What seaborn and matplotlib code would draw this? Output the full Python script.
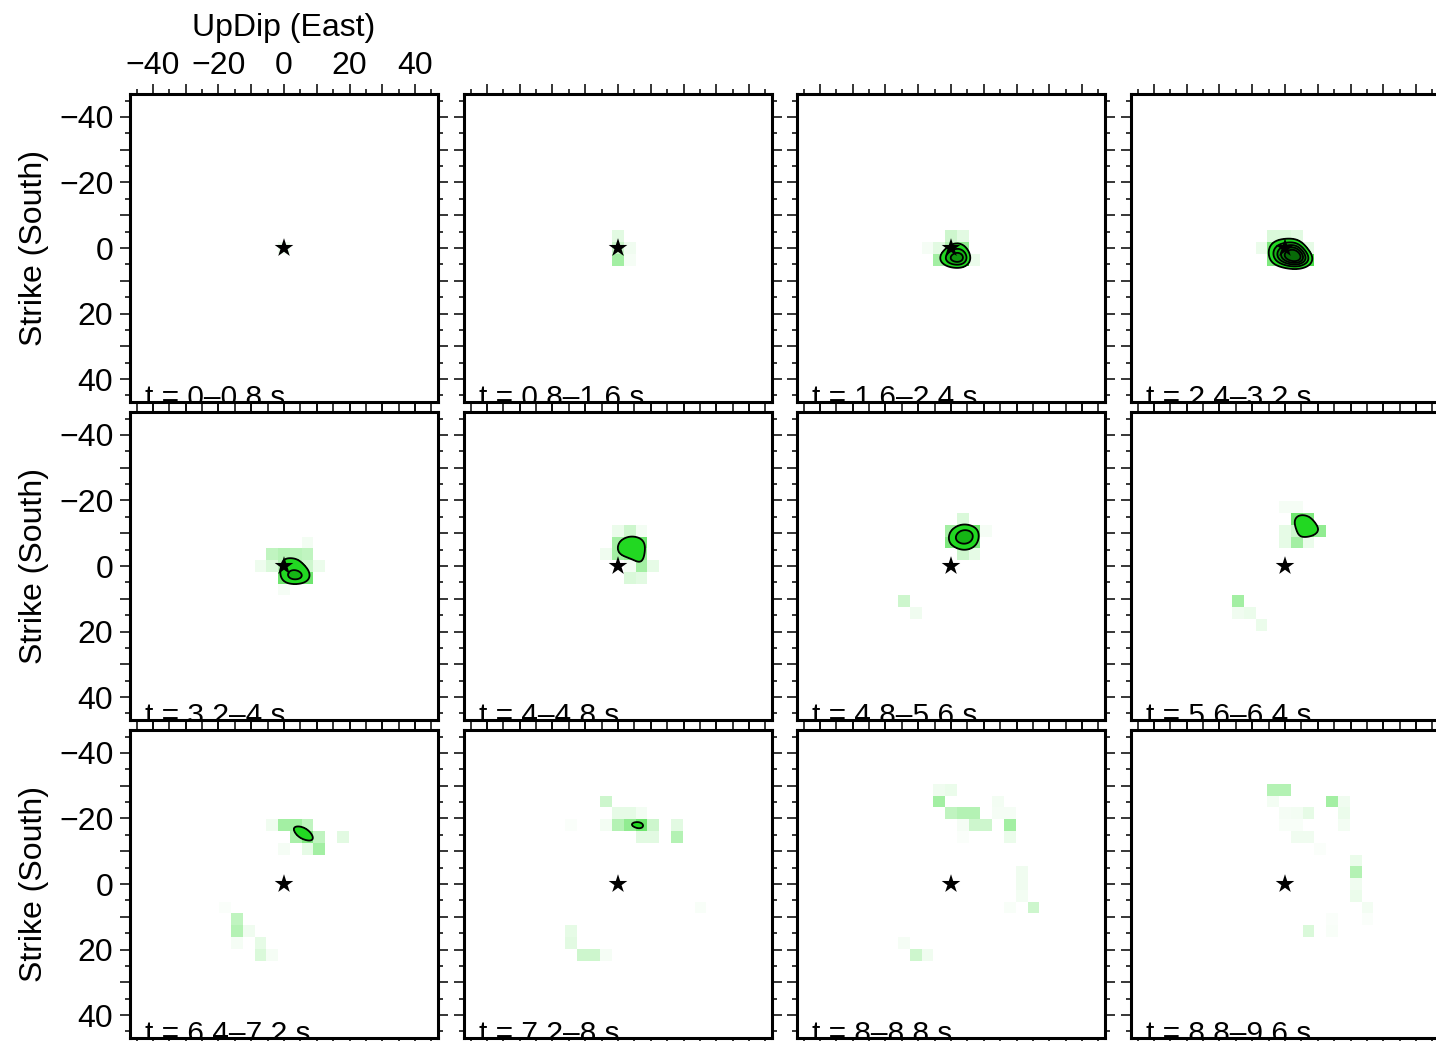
import numpy as np
import pandas as pd
import matplotlib
matplotlib.use("Agg")
import matplotlib.pyplot as plt
import seaborn as sns
from matplotlib.colors import LinearSegmentedColormap

# ---------------- data ----------------
CELL = 3.6          # km, size of a subfault cell
NHALF = 13          # cells each side of hypocentre
LIM = 47            # axis half-range (km)

time_windows = ["0–0.8", "0.8–1.6", "1.6–2.4", "2.4–3.2",
                "3.2–4", "4–4.8", "4.8–5.6", "5.6–6.4",
                "6.4–7.2", "7.2–8", "8–8.8", "8.8–9.6"]

major_ticks = [-40, -30, -20, -10, 0, 10, 20, 30, 40]
minor_ticks = [-45, -35, -25, -15, -5, 5, 15, 25, 35, 45]
tick_labels = ["−40", "", "−20", "", "0", "", "20", "", "40"]

hypo_x = [0.0]
hypo_y = [0.0]

# (east cell index, south cell index, relative slip)
p01 = [(0, 0, 0.07)]
p02 = [(0, -1, 0.12), (0, 0, 0.22), (0, 1, 0.35), (1, 0, 0.06), (1, 1, 0.04)]
p03 = [(0, -1, 0.2), (1, -1, 0.12), (-2, 0, 0.04), (-1, 0, 0.12), (0, 0, 0.3),
       (1, 0, 0.4), (-1, 1, 0.35), (0, 1, 0.75), (1, 1, 0.85), (2, 1, 0.08)]
p04 = [(-1, -1, 0.15), (0, -1, 0.15), (1, -1, 0.12), (-2, 0, 0.08), (-1, 0, 0.45),
       (0, 0, 0.6), (1, 0, 0.7), (2, 0, 0.1), (-1, 1, 0.45), (0, 1, 0.75),
       (1, 1, 1.0), (2, 1, 0.6)]
p05 = [(2, -2, 0.05), (-1, -1, 0.25), (0, -1, 0.3), (1, -1, 0.28), (2, -1, 0.25),
       (-2, 0, 0.07), (-1, 0, 0.15), (0, 0, 0.3), (1, 0, 0.3), (2, 0, 0.2),
       (3, 0, 0.08), (0, 1, 0.5), (1, 1, 0.65), (2, 1, 0.5), (0, 2, 0.04)]
p06 = [(0, -3, 0.08), (1, -3, 0.2), (2, -3, 0.05), (0, -2, 0.35), (1, -2, 0.4),
       (2, -2, 0.5), (-1, -1, 0.06), (0, -1, 0.35), (1, -1, 0.4), (2, -1, 0.4),
       (1, 0, 0.05), (2, 0, 0.35), (3, 0, 0.1), (1, 1, 0.15), (2, 1, 0.12)]
p07 = [(1, -4, 0.15), (0, -3, 0.35), (1, -3, 0.5), (2, -3, 0.5), (3, -3, 0.04),
       (0, -2, 0.45), (1, -2, 0.5), (2, -2, 0.45), (1, -1, 0.2), (2, -1, 0.1),
       (-4, 3, 0.2), (-3, 4, 0.06)]
p08 = [(0, -5, 0.04), (1, -5, 0.04), (1, -4, 0.5), (2, -4, 0.45), (0, -3, 0.1),
       (1, -3, 0.2), (2, -3, 0.55), (3, -3, 0.4), (0, -2, 0.1), (1, -2, 0.35),
       (2, -2, 0.08), (-4, 3, 0.35), (-4, 4, 0.06), (-3, 4, 0.08), (-2, 5, 0.08)]
p09 = [(-1, -5, 0.06), (0, -5, 0.35), (1, -5, 0.36), (2, -5, 0.25), (1, -4, 0.33),
       (2, -4, 0.45), (3, -4, 0.25), (5, -4, 0.12), (0, -3, 0.04), (2, -3, 0.1),
       (3, -3, 0.35), (-5, 2, 0.02), (-4, 3, 0.25), (-4, 4, 0.3), (-3, 4, 0.06),
       (-4, 5, 0.04), (-2, 5, 0.1), (-2, 6, 0.15), (-1, 6, 0.04)]
p10 = [(-1, -7, 0.2), (0, -6, 0.1), (1, -6, 0.1), (2, -6, 0.05), (-4, -5, 0.02),
       (-1, -5, 0.05), (0, -5, 0.3), (1, -5, 0.4), (2, -5, 0.5), (3, -5, 0.2),
       (5, -5, 0.12), (2, -4, 0.12), (3, -4, 0.12), (5, -4, 0.3), (7, 2, 0.03),
       (-4, 4, 0.1), (-4, 5, 0.12), (-3, 6, 0.2), (-2, 6, 0.2), (-1, 6, 0.04)]
p11 = [(-1, -8, 0.06), (0, -8, 0.08), (-1, -7, 0.35), (4, -7, 0.05), (0, -6, 0.25),
       (1, -6, 0.3), (2, -6, 0.3), (4, -6, 0.04), (5, -6, 0.04), (1, -5, 0.04),
       (2, -5, 0.2), (3, -5, 0.2), (5, -5, 0.35), (1, -4, 0.02), (5, -4, 0.08),
       (6, -1, 0.06), (6, 0, 0.06), (6, 1, 0.05), (5, 2, 0.03), (7, 2, 0.2),
       (-4, 5, 0.04), (-3, 6, 0.2), (-2, 6, 0.06)]
p12 = [(-1, -8, 0.3), (0, -8, 0.3), (-1, -7, 0.05), (4, -7, 0.35), (5, -7, 0.06),
       (0, -6, 0.04), (1, -6, 0.05), (2, -6, 0.1), (5, -6, 0.08), (0, -5, 0.03),
       (1, -5, 0.03), (5, -5, 0.05), (1, -4, 0.06), (2, -4, 0.06), (3, -3, 0.02),
       (6, -2, 0.08), (6, -1, 0.3), (6, 0, 0.06), (6, 1, 0.08), (7, 2, 0.05),
       (4, 3, 0.02), (7, 3, 0.02), (2, 4, 0.15), (4, 4, 0.03)]

panels = [p01, p02, p03, p04, p05, p06, p07, p08, p09, p10, p11, p12]

contour_levels = [0.27, 0.385, 0.47, 0.54, 0.6]
SMOOTH = 2.4   # km, smoothing length for the contoured slip field

# ---------------- style ----------------
sns.set_style("ticks")
plt.rcParams['font.family'] = ['Liberation Sans', 'DejaVu Sans']
plt.rcParams['axes.unicode_minus'] = True

cell_cmap = LinearSegmentedColormap.from_list(
    "slipgreen",
    [(0.0, "#ffffff"), (0.3, "#b4f2b4"), (0.65, "#3ade3a"), (1.0, "#1cc41c")])
band_colors = ["#22d822", "#15b515", "#0f960f", "#0c800c", "#086a08"]

W, H = 1436, 1041
fig = plt.figure(figsize=(W / 100, H / 100), dpi=100)

lefts = [130, 464, 797, 1131]
tops = [94, 412, 730]
SIZE = 308
FS = 23
FS_T = 21.5


def idx(u):
    return np.asarray(u, dtype=float) / CELL + NHALF + 0.5


cell_ids = list(range(-NHALF, NHALF + 1))
fine = np.arange(-LIM, LIM + 0.01, 0.25)
FX, FY = np.meshgrid(fine, fine)
lat = np.arange(-5, 6) * CELL
norm_k = np.exp(-(lat ** 2) / (2 * SMOOTH ** 2)).sum() ** 2

for k, cells in enumerate(panels):
    r, c = divmod(k, 4)
    ax = fig.add_axes([lefts[c] / W, 1 - (tops[r] + SIZE) / H, SIZE / W, SIZE / H])

    df = pd.DataFrame(0.0, index=cell_ids, columns=cell_ids)
    for i, j, v in cells:
        df.loc[j, i] = v
    sns.heatmap(df, ax=ax, cmap=cell_cmap, vmin=0, vmax=1, cbar=False,
                xticklabels=False, yticklabels=False, linewidths=0)

    # smoothed (normalised Gaussian) slip field for contours
    field = np.zeros_like(FX)
    for i, j, v in cells:
        field += v * np.exp(-((FX - i * CELL) ** 2 + (FY - j * CELL) ** 2) / (2 * SMOOTH ** 2))
    field /= norm_k
    if field.max() > contour_levels[0]:
        ax.contourf(idx(fine), idx(fine), field, levels=contour_levels + [10],
                    colors=band_colors, zorder=3)
        ax.contour(idx(fine), idx(fine), field, levels=contour_levels,
                   colors="k", linewidths=1.3, zorder=4)

    sns.scatterplot(x=idx(hypo_x), y=idx(hypo_y), marker="*", s=200,
                    color="k", edgecolor="none", ax=ax, zorder=6, legend=False)

    ax.set_xlim(idx(-LIM), idx(LIM))
    ax.set_ylim(idx(LIM), idx(-LIM))

    ax.set_xticks(idx(major_ticks))
    ax.set_xticks(idx(minor_ticks), minor=True)
    ax.set_yticks(idx(major_ticks))
    ax.set_yticks(idx(minor_ticks), minor=True)
    ax.set_xticklabels(tick_labels)
    ax.set_yticklabels(tick_labels)

    for sp in ax.spines.values():
        sp.set_visible(True)
        sp.set_linewidth(2.2)
        sp.set_color("k")
        sp.set_zorder(10)

    ax.tick_params(which="both", direction="out", top=True, bottom=True,
                   left=True, right=True, width=1.1, color="k",
                   labelsize=FS, labelcolor="k",
                   labeltop=(k == 0), labelbottom=False,
                   labelleft=(c == 0), labelright=False)
    ax.tick_params(which="major", length=7)
    ax.tick_params(which="minor", length=3.5)
    ax.tick_params(axis="x", which="major", pad=2)
    ax.tick_params(axis="y", which="major", pad=5)
    for lab in ax.get_yticklabels():
        lab.set_rotation(0)

    ax.set_xlabel("")
    ax.set_ylabel("")
    if k == 0:
        ax.xaxis.set_label_position("top")
        ax.set_xlabel("UpDip (East)", fontsize=FS, labelpad=11, color="k")
        ax.xaxis.label.set_visible(True)
    if c == 0:
        ax.set_ylabel("Strike (South)", fontsize=FS, labelpad=7, color="k")
        ax.yaxis.label.set_visible(True)

    t = ax.text(0.05, -0.012, f"t = {time_windows[k]} s", transform=ax.transAxes,
                fontsize=FS_T, ha="left", va="baseline", color="k", zorder=8)
    t.set_clip_on(True)

fig.savefig("out.png", dpi=100)
